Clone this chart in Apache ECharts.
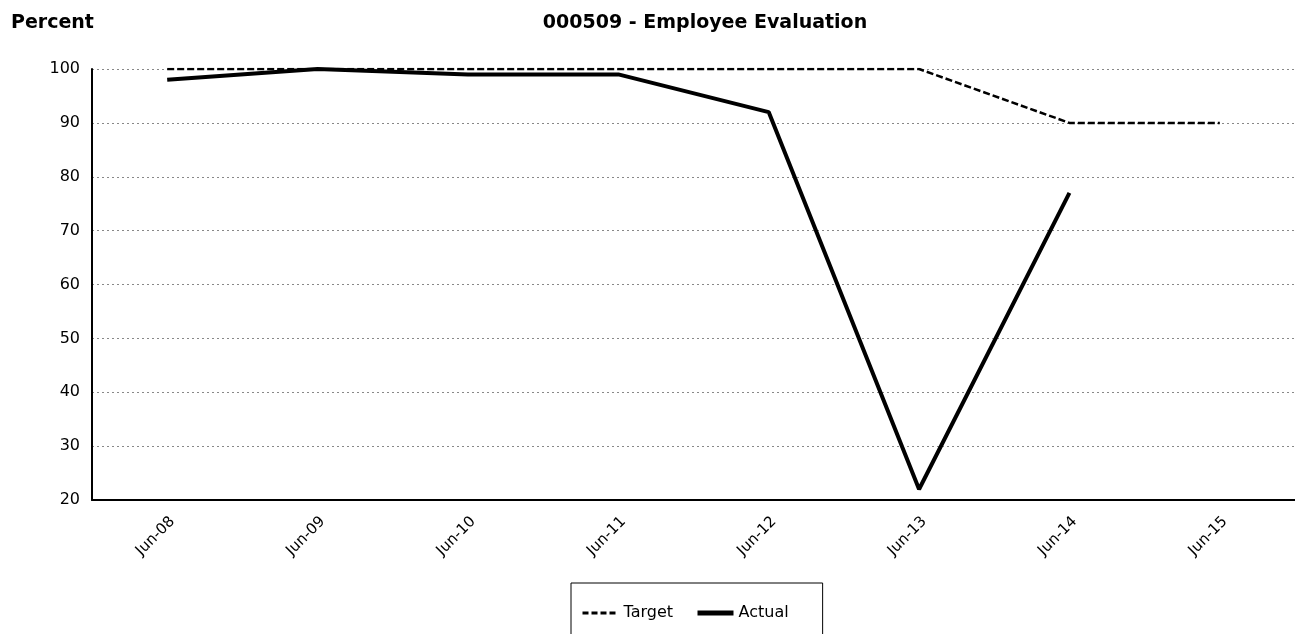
<!DOCTYPE html>
<html>
<head>
<meta charset="utf-8">
<script src="https://cdn.jsdelivr.net/npm/echarts@6/dist/echarts.min.js"></script>
<style>
  html, body { margin: 0; padding: 0; background: #fff; }
  #chart { width: 1295px; height: 634px; }
</style>
</head>
<body>
<div id="chart"></div>
<script>
const categories = ['Jun-08', 'Jun-09', 'Jun-10', 'Jun-11', 'Jun-12', 'Jun-13', 'Jun-14', 'Jun-15'];
const target = [100, 100, 100, 100, 100, 100, 90, 90];
const actual = [98, 100, 99, 99, 92, 22, 77, null];

const chart = echarts.init(document.getElementById('chart'));
const font = 'DejaVu Sans, sans-serif';

chart.setOption({
  animation: false,
  textStyle: { fontFamily: font },
  title: [
    {
      text: '000509 - Employee Evaluation',
      left: 700, top: 9, textAlign: 'center',
      textStyle: { fontSize: 19, fontWeight: 'bold', color: '#000', fontFamily: font }
    },
    {
      text: 'Percent',
      left: 6, top: 9,
      textStyle: { fontSize: 19, fontWeight: 'bold', color: '#000', fontFamily: font }
    }
  ],
  legend: {
    left: 571, top: 583,
    padding: [20, 34, 40, 10],
    borderColor: '#000', borderWidth: 1,
    itemWidth: 36, itemHeight: 14, itemGap: 22,
    itemStyle: { opacity: 0 },
    textStyle: { fontSize: 16, color: '#000', fontFamily: font, lineHeight: 20 },
    data: [
      { name: 'Target', lineStyle: { width: 3, type: [6, 3] } },
      { name: 'Actual', lineStyle: { width: 5 } }
    ]
  },
  grid: { left: 92, right: -2, top: 69, bottom: 134 },
  xAxis: {
    type: 'category',
    data: categories,
    boundaryGap: true,
    axisLine: { lineStyle: { color: '#000', width: 2 } },
    axisTick: { show: false },
    axisLabel: { rotate: 45, fontSize: 15, color: '#000', margin: 14, verticalAlign: 'top', fontFamily: font }
  },
  yAxis: {
    type: 'value',
    min: 20, max: 100, interval: 10,
    axisLine: { show: true, lineStyle: { color: '#000', width: 2 } },
    axisTick: { show: false },
    axisLabel: { fontSize: 16, color: '#000', margin: 12, fontFamily: font },
    splitLine: { lineStyle: { color: '#888', type: [2, 3], width: 1 } }
  },
  series: [
    {
      name: 'Target', type: 'line', data: target,
      symbol: 'none', z: 3,
      lineStyle: { color: '#000', width: 2.5, type: [7, 3] },
      itemStyle: { color: '#000' }
    },
    {
      name: 'Actual', type: 'line', data: actual,
      symbol: 'none', z: 4,
      lineStyle: { color: '#000', width: 4 },
      itemStyle: { color: '#000' }
    }
  ]
});
</script>
</body>
</html>
